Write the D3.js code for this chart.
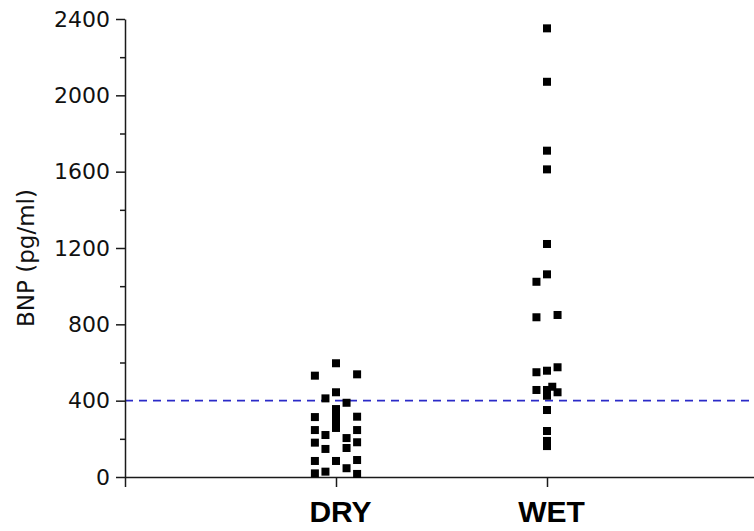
<!DOCTYPE html>
<html>
<head>
<meta charset="utf-8">
<script src="https://cdn.jsdelivr.net/npm/d3@7"></script>
<style>
  html, body { margin: 0; padding: 0; background: #fff; }
  svg { display: block; font-family: "Liberation Sans", Arial, sans-serif; }
</style>
</head>
<body>
<svg id="chart" width="754" height="531"></svg>
<script>
// ---- data ----
const categories = ["DRY", "WET"];
const categoryIndex = [1, 2];
const yTicks = [0, 400, 800, 1200, 1600, 2000, 2400];
const yMinorTicks = [200, 600, 1000, 1400, 1800, 2200];
const threshold = 400;

// DRY group: position on category axis (1 = DRY, jittered) and BNP values
const dryPos = [1, 0.9, 1.1, 1, 0.95, 1.05, 1, 1, 1, 1, 0.9, 1.1, 0.9, 0.9, 0.95, 0.95, 1.05, 1.05, 1.1, 1.1, 0.9, 1, 1.1, 1.05, 0.9, 0.95, 1.1];
const dryBNP = [596, 531, 538, 444, 412, 389, 356, 320, 288, 257, 314, 316, 246, 180, 220, 147, 204, 152, 246, 182, 84, 84, 89, 46, 19, 28, 16];

// WET group
const wetPos = [2, 2, 2, 2, 2, 2, 1.95, 1.95, 2.05, 1.95, 2, 2.05, 1.95, 2, 2.025, 2.05, 2, 2, 2, 2, 2];
const wetBNP = [2351, 2071, 1710, 1612, 1221, 1062, 1023, 837, 849, 549, 557, 575, 456, 456, 473, 444, 426, 351, 241, 189, 162];

// ---- layout ----
const svg = d3.select("#chart");
const W = 754, H = 531;
const x = d3.scaleLinear().domain([0, 3]).range([125, 758]);
const y = d3.scaleLinear().domain([0, 2400]).range([477, 19]);

const axisColor = "#1a1a1a";

// horizontal dashed threshold line
svg.append("line")
  .attr("x1", x(0)).attr("x2", W)
  .attr("y1", y(threshold)).attr("y2", y(threshold))
  .attr("stroke", "#2b2bc8").attr("stroke-width", 1.6)
  .attr("stroke-dasharray", "8,6");

// y axis
const yAxis = d3.axisLeft(y).tickValues(yTicks).tickSize(9).tickPadding(6).tickSizeOuter(0)
  .tickFormat(d3.format("d"));
const gy = svg.append("g").attr("transform", `translate(${x(0)},0)`).call(yAxis);
gy.select(".domain").attr("stroke", axisColor).attr("stroke-width", 1.5);
gy.selectAll(".tick line").attr("stroke", axisColor).attr("stroke-width", 1.5);
gy.selectAll(".tick text").attr("font-size", 22).attr("fill", "#111")
  .attr("font-family", "'DejaVu Sans', sans-serif");

// minor y ticks
const gyMinor = d3.axisLeft(y).tickValues(yMinorTicks).tickSize(5).tickFormat("").tickSizeOuter(0);
const gm = svg.append("g").attr("transform", `translate(${x(0)},0)`).call(gyMinor);
gm.select(".domain").remove();
gm.selectAll(".tick line").attr("stroke", axisColor).attr("stroke-width", 1.5);

// x axis
const xAxis = d3.axisBottom(x).tickValues([0].concat(categoryIndex)).tickSize(10).tickSizeOuter(0)
  .tickFormat(d => d === 0 ? "" : categories[categoryIndex.indexOf(d)]).tickPadding(14);
const gx = svg.append("g").attr("transform", `translate(0,${y(0)})`).call(xAxis);
gx.select(".domain").attr("stroke", axisColor).attr("stroke-width", 1.5);
gx.selectAll(".tick line").attr("stroke", axisColor).attr("stroke-width", 1.5);
gx.selectAll(".tick text").attr("font-size", 30).attr("font-weight", "bold").attr("fill", "#000")
  .attr("dx", 4)
  .attr("font-family", "'Liberation Sans', Arial, sans-serif");

// y axis title
svg.append("text")
  .attr("transform", `translate(34,258) rotate(-90)`)
  .attr("text-anchor", "middle")
  .attr("font-size", 23)
  .attr("font-family", "'DejaVu Sans', sans-serif")
  .attr("fill", "#111")
  .text("BNP (pg/ml)");

// points
const size = 8;
const pts = dryPos.map((p, i) => ({ p, v: dryBNP[i] }))
  .concat(wetPos.map((p, i) => ({ p, v: wetBNP[i] })));
svg.append("g").selectAll("rect").data(pts).join("rect")
  .attr("x", d => x(d.p) - size / 2)
  .attr("y", d => y(d.v) - size / 2)
  .attr("width", size).attr("height", size)
  .attr("fill", "#000");
</script>
</body>
</html>
